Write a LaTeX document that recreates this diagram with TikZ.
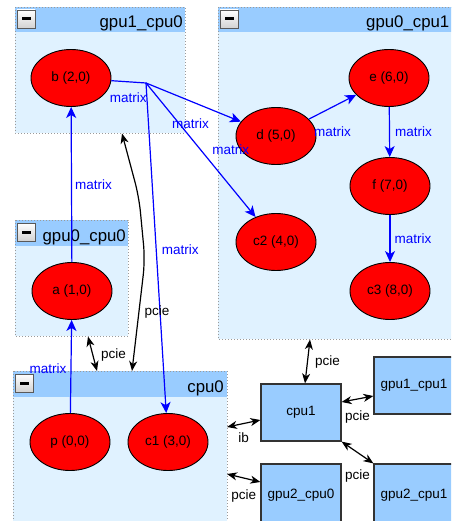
\documentclass[tikz,border=0pt]{standalone}
\usepackage{fontspec}
\setmainfont{Liberation Sans}
\usetikzlibrary{arrows.meta,shapes.geometric,calc}
\definecolor{hdr}{HTML}{99CCFF}
\definecolor{grpfill}{HTML}{E0F2FF}
\definecolor{dotc}{HTML}{9A9A9A}
\definecolor{bx}{HTML}{333333}
\tikzset{
  ell/.style={ellipse, draw=black, line width=0.9pt, fill=red, minimum width=80pt, minimum height=57pt, inner sep=0pt, font=\fontsize{13.5}{15}\selectfont},
  bbox/.style={rectangle, draw=bx, line width=1.2pt, fill=hdr, inner sep=0pt, font=\fontsize{13.5}{15}\selectfont},
  be/.style={draw=blue, line width=1.2pt, -{Stealth[length=11pt,width=10pt,inset=3pt]}},
  bl/.style={draw=blue, line width=1.2pt},
  ke/.style={draw=black, line width=1.2pt, {Stealth[length=10pt,width=8pt,inset=3pt]}-{Stealth[length=10pt,width=8pt,inset=3pt]}},
  lb/.style={text=blue, inner sep=0pt, font=\fontsize{13.5}{15}\selectfont},
  lk/.style={text=black, inner sep=0pt, font=\fontsize{13.5}{15}\selectfont},
  gtitle/.style={inner sep=0pt, anchor=base east, font=\fontsize{16.8}{19}\selectfont},
  gbody/.style={fill=grpfill},
  ghead/.style={fill=hdr},
  gborder/.style={draw=dotc, line width=0.8pt, dash pattern=on 1pt off 2pt},
}
\newcommand{\mygroup}[7]{%
  \fill[gbody] (#2,#3) rectangle (#4,#5);
  \fill[ghead] (#2,#3) rectangle (#4,#3+25.5);
  \draw[gborder] (#2,#3) rectangle (#4,#5);
  \shade[top color=white, bottom color=gray!35, draw=gray!70!black, line width=0.8pt] (#2+2,#3+3) rectangle (#2+20,#3+21);
  \fill[black] (#2+6.5,#3+10.5) rectangle (#2+15.5,#3+13.5);
  \node[gtitle] (#1) at (#7,#3+21) {#6};
}
\begin{document}
\begin{tikzpicture}[x=1pt,y=-1pt]
\useasboundingbox (0,0) rectangle (451,521);
\clip (0,0) rectangle (451,521);
\fill[white] (0,0) rectangle (451,521);

% groups
\mygroup{tG1}{15}{7}{185}{133}{gpu1\_cpu0}{183}
\mygroup{tG2}{218}{7}{456}{339}{gpu0\_cpu1}{449.5}
\mygroup{tG3}{15}{220}{128}{336}{gpu0\_cpu0}{126}
\mygroup{tG4}{13}{371}{227}{530}{cpu0}{224}

% ellipses
\node[ell] (b) at (71,78) {b (2,0)};
\node[ell] (a) at (72,291) {a (1,0)};
\node[ell] (p) at (70,442) {p (0,0)};
\node[ell] (c1) at (168,442) {c1 (3,0)};
\node[ell] (d) at (276,136) {d (5,0)};
\node[ell] (e) at (389,78) {e (6,0)};
\node[ell] (f) at (390,186) {f (7,0)};
\node[ell] (c2) at (276,242) {c2 (4,0)};
\node[ell] (c3) at (390,291) {c3 (8,0)};

% boxes
\node[bbox, minimum width=80pt, minimum height=57pt] (cpu1) at (301,412.5) {cpu1};
\node[bbox, minimum width=80pt, minimum height=57pt] (g1c1) at (414,385.5) {gpu1\_cpu1};
\node[bbox, minimum width=80pt, minimum height=62pt] (g2c0) at (301,495) {gpu2\_cpu0};
\node[bbox, minimum width=80pt, minimum height=62pt] (g2c1) at (414,495) {gpu2\_cpu1};

% blue edges
\coordinate (J) at (146,83);
\draw[bl] (b) -- (J) node[lb, pos=0.49, yshift=-15.5pt] {matrix};
\draw[be] (J) -- (d) node[lb, pos=0.47, yshift=-22.5pt] {matrix};
\draw[be] (J) -- (c2) node[lb, pos=0.5, xshift=30pt] {matrix};
\draw[be] (J) -- (c1) node[lb, pos=0.505, xshift=24pt] {matrix};
\draw[be] (p) -- (a) node[lb, pos=0.48, xshift=-23pt] {matrix};
\draw[be] (a) -- (b) node[lb, pos=0.5, xshift=22pt] {matrix};
\draw[be] (d) -- (e) node[lb, pos=0.5, yshift=-24.5pt] {matrix};
\draw[be] (e) -- (f) node[lb, pos=0.5, xshift=24pt] {matrix};
\draw[be] (f) -- (c3) node[lb, pos=0.5, xshift=23pt] {matrix};

% black edges
\coordinate (g1b) at (122,133.5);
\coordinate (c0t) at (132,371);
\draw[ke, rounded corners=15pt] (g1b) -- (139,197) -- (145,260) -- (c0t) node[lk, pos=0.47, xshift=18pt] {pcie};
\coordinate (g0c0b) at (88,336.5);
\coordinate (c0t2) at (97,371);
\draw[ke] (g0c0b) -- (c0t2) node[lk, pos=0.55, xshift=20.5pt] {pcie};
\coordinate (g0c1b) at (310,339.5);
\draw[ke] (g0c1b) -- ([xshift=4pt]cpu1.north) node[lk, pos=0.52, xshift=20pt] {pcie};
\draw[ke] ([yshift=10.5pt]cpu1.east) -- ([yshift=-10.5pt]g1c1.west) node[lk, pos=0.5, yshift=-18pt] {pcie};
\coordinate (c0r1) at (227,427);
\draw[ke] (c0r1) -- ([yshift=-7.5pt]cpu1.west) node[lk, pos=0.5, yshift=-14.5pt] {ib};
\draw[ke] (cpu1.south east) -- (g2c1.north west) node[lk, pos=0.5, yshift=-24pt] {pcie};
\coordinate (c0r2) at (227,474);
\draw[ke] (c0r2) -- ([yshift=13pt]g2c0.west) node[lk, pos=0.5, yshift=-18pt] {pcie};
\end{tikzpicture}
\end{document}
